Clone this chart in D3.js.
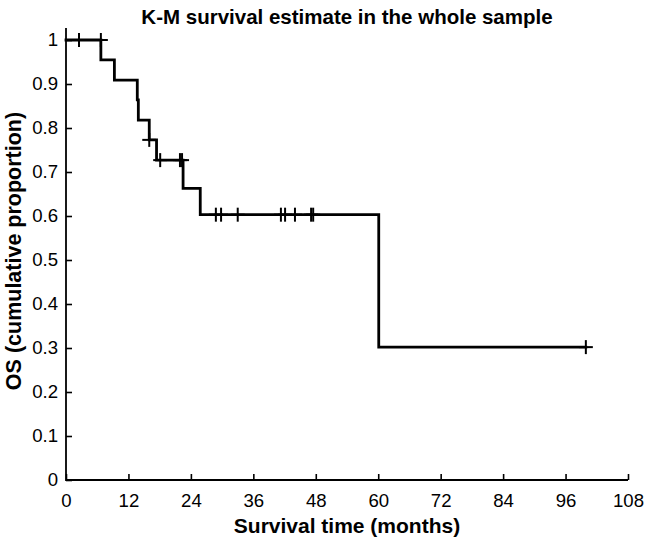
<!DOCTYPE html>
<html>
<head>
<meta charset="utf-8">
<script src="https://cdn.jsdelivr.net/npm/d3@7"></script>
<style>
  html, body { margin: 0; padding: 0; background: #fff; }
  svg { display: block; }
  text { font-family: "Liberation Sans", Arial, Helvetica, sans-serif; fill: #000; }
</style>
</head>
<body>
<svg id="chart" width="657" height="544"></svg>
<script>
// ---- data ----
const titleText = "K-M survival estimate in the whole sample";
const xLabelText = "Survival time (months)";
const yLabelText = "OS (cumulative proportion)";
const xTicks = [0, 12, 24, 36, 48, 60, 72, 84, 96, 108];
const yTicks = [0, 0.1, 0.2, 0.3, 0.4, 0.5, 0.6, 0.7, 0.8, 0.9, 1];
const yTickLabels = ["0", "0.1", "0.2", "0.3", "0.4", "0.5", "0.6", "0.7", "0.8", "0.9", "1"];
// death times (months) and survival after each step
const eventTimes = [6.7, 9.3, 13.7, 13.9, 16.0, 17.4, 22.5, 25.8, 60.1];
const eventSurvival = [0.955, 0.909, 0.864, 0.818, 0.773, 0.727, 0.663, 0.603, 0.302];
// censored observations
const censorTimes = [2.5, 6.7, 16.0, 18.1, 21.9, 22.3, 28.8, 29.8, 33.0, 41.3, 42.1, 44.0, 47.1, 47.5, 99.9];
const censorSurvival = [1, 1, 0.773, 0.727, 0.727, 0.727, 0.603, 0.603, 0.603, 0.603, 0.603, 0.603, 0.603, 0.603, 0.302];
const lastTime = 99.9;

// ---- layout ----
const svg = d3.select("#chart");
const mLeft = 66, mRight = 628, mBottom = 480, mTop = 40;
const x = d3.scaleLinear().domain([0, 108]).range([mLeft, mRight]);
const y = d3.scaleLinear().domain([0, 1]).range([mBottom, mTop]);
const yTopVal = 1.027;

// axes
const xAxis = d3.axisBottom(x).tickValues(xTicks).tickSizeInner(-6).tickSizeOuter(0).tickPadding(13.5).tickFormat(d3.format("d"));
const gx = svg.append("g").attr("transform", `translate(0,${mBottom})`).call(xAxis);
gx.select(".domain").remove();
const yAxis = d3.axisLeft(y).tickValues(yTicks).tickSizeInner(-6).tickSizeOuter(0).tickPadding(8)
  .tickFormat((d, i) => yTickLabels[i]);
const gy = svg.append("g").attr("transform", `translate(${mLeft},0)`).call(yAxis);
gy.select(".domain").remove();
[gx, gy].forEach(g => {
  g.selectAll(".tick line").attr("stroke", "#000").attr("stroke-width", 1.6);
  g.selectAll(".tick text").attr("font-size", 18.6).attr("font-family", "Liberation Sans, Arial, sans-serif").attr("fill", "#000");
});
// axis lines
svg.append("line").attr("x1", x(0)).attr("x2", x(108)).attr("y1", y(0)).attr("y2", y(0))
  .attr("stroke", "#000").attr("stroke-width", 1.8);
svg.append("line").attr("x1", x(0)).attr("x2", x(0)).attr("y1", y(0) + 0.9).attr("y2", y(yTopVal))
  .attr("stroke", "#000").attr("stroke-width", 1.8);

// K-M step curve
const pts = [[0, 1]].concat(eventTimes.map((t, i) => [t, eventSurvival[i]]));
pts.push([lastTime, eventSurvival[eventSurvival.length - 1]]);
const line = d3.line().x(d => x(d[0])).y(d => y(d[1])).curve(d3.curveStepAfter);
svg.append("path").datum(pts).attr("d", line).attr("fill", "none")
  .attr("stroke", "#000").attr("stroke-width", 2.8).attr("stroke-linejoin", "miter").attr("stroke-linecap", "square");

// censor "+" markers
const mk = 7;
const cg = svg.append("g").attr("stroke", "#000").attr("stroke-width", 2);
censorTimes.forEach((t, i) => {
  const cx = x(t), cy = y(censorSurvival[i]);
  cg.append("line").attr("x1", cx - mk).attr("x2", cx + mk).attr("y1", cy).attr("y2", cy);
  cg.append("line").attr("x1", cx).attr("x2", cx).attr("y1", cy - mk).attr("y2", cy + mk);
});

// title and labels
svg.append("text").attr("x", (mLeft + mRight) / 2).attr("y", 24).attr("text-anchor", "middle")
  .attr("font-size", 20.5).attr("font-weight", "bold").text(titleText);
svg.append("text").attr("x", (mLeft + mRight) / 2).attr("y", 533).attr("text-anchor", "middle")
  .attr("font-size", 21).attr("font-weight", "bold").text(xLabelText);
svg.append("text").attr("transform", `translate(21,251) rotate(-90)`).attr("text-anchor", "middle")
  .attr("font-size", 21.5).attr("font-weight", "bold").text(yLabelText);
</script>
</body>
</html>
